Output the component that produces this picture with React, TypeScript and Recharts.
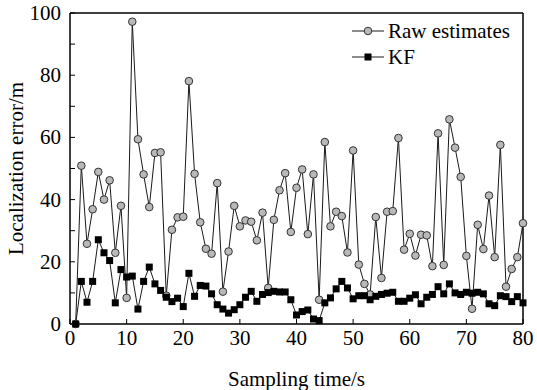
import { LineChart, Line, XAxis, YAxis, Label, ReferenceArea } from 'recharts';

// sampling instants (s)
const times = Array.from({ length: 80 }, (_, i) => i + 1);

// localization error (m)
const rawEstimates = [
  0, 50.9, 25.8, 36.9, 48.9, 40.0, 46.2, 22.9, 38.0, 8.4,
  97.2, 59.4, 48.1, 37.6, 55.0, 55.2, 9.1, 30.3, 34.3, 34.5,
  78.1, 48.3, 32.7, 24.2, 22.6, 45.3, 10.4, 23.3, 38.0, 31.4,
  33.3, 32.9, 26.9, 35.8, 11.6, 33.5, 43.0, 48.5, 29.6, 43.8,
  49.7, 28.9, 48.1, 7.8, 58.5, 31.4, 36.1, 34.7, 23.0, 55.8,
  19.1, 12.9, 9.5, 34.4, 14.8, 36.1, 36.3, 59.8, 23.9, 29.0,
  22.0, 28.7, 28.5, 18.6, 61.3, 19.0, 65.8, 56.7, 47.3, 21.9,
  4.9, 31.9, 24.1, 41.3, 21.5, 57.6, 12.0, 17.7, 21.5, 32.4,
];

const kfEstimates = [
  0, 13.7, 7.0, 13.7, 27.1, 22.9, 20.4, 6.8, 17.5, 15.1,
  15.4, 4.8, 13.7, 18.3, 12.9, 10.8, 8.6, 7.2, 8.3, 5.6,
  16.3, 8.9, 12.4, 12.2, 9.7, 6.2, 4.8, 3.5, 4.6, 6.2,
  8.6, 10.5, 7.3, 9.5, 10.1, 10.5, 10.3, 10.3, 7.8, 2.9,
  4.0, 4.5, 1.6, 1.1, 6.8, 8.4, 11.3, 13.7, 11.6, 8.1,
  9.1, 9.1, 7.8, 8.9, 9.5, 9.9, 10.2, 7.3, 7.3, 8.3,
  9.4, 6.5, 8.6, 9.5, 12.0, 9.7, 12.9, 10.0, 9.5, 10.2,
  9.9, 10.2, 9.7, 6.5, 5.9, 9.1, 8.8, 7.2, 8.8, 6.8,
];

const xTicks = [0, 10, 20, 30, 40, 50, 60, 70, 80];
const yTicks = [0, 10, 20, 30, 40, 50, 60, 70, 80, 90, 100];

const data = times.map((t, i) => ({ t, raw: rawEstimates[i], kf: kfEstimates[i] }));

const FONT = 'Liberation Serif, Times New Roman, serif';
const textStyle = { fontFamily: FONT, fontSize: 21, fill: '#000' };

const XTick = ({ x, y, payload }: any) => (
  <text x={x} y={y + 15} textAnchor="middle" style={textStyle}>
    {payload.value}
  </text>
);

const YTick = ({ x, y, payload }: any) =>
  payload.value % 20 === 0 ? (
    <text x={x} y={y + 7} textAnchor="end" style={textStyle}>
      {payload.value}
    </text>
  ) : (
    <g />
  );

const SquareDot = (props: any) => {
  const { cx, cy, index } = props;
  if (cx == null || cy == null) return <g key={index} />;
  return <rect key={index} x={cx - 3.5} y={cy - 3.5} width={7} height={7} fill="#000" />;
};

const XTitle = ({ viewBox }: any) => (
  <text x={viewBox.x + viewBox.width / 2} y={viewBox.y + viewBox.height - 4} textAnchor="middle" style={textStyle}>
    Sampling time/s
  </text>
);

const YTitle = ({ viewBox }: any) => {
  const cx = 23;
  const cy = viewBox.y + viewBox.height / 2;
  return (
    <text x={cx} y={cy} transform={`rotate(-90, ${cx}, ${cy})`} textAnchor="middle" style={textStyle}>
      Localization error/m
    </text>
  );
};

export default function App() {
  return (
    <div style={{ position: 'absolute', left: 0, top: 0, width: 537, height: 390 }}>
      <LineChart width={537} height={390} data={data} margin={{ top: 12, right: 13, left: 8, bottom: 0 }}>
        {/* plot frame */}
        <ReferenceArea x1={0} x2={80} y1={0} y2={100} fill="none" stroke="#000" strokeWidth={1} ifOverflow="visible" />
        <XAxis
          dataKey="t"
          type="number"
          domain={[0, 80]}
          ticks={xTicks}
          height={66}
          tickSize={-5}
          tickMargin={11}
          tick={XTick}
          axisLine={{ stroke: '#000' }}
          tickLine={{ stroke: '#000' }}
          interval={0}
        >
          <Label content={XTitle} />
        </XAxis>
        <XAxis
          xAxisId="top"
          orientation="top"
          dataKey="t"
          type="number"
          domain={[0, 80]}
          ticks={xTicks}
          height={1}
          tickSize={-5}
          tick={false}
          axisLine={{ stroke: '#000' }}
          tickLine={{ stroke: '#000' }}
          interval={0}
        />
        <YAxis
          type="number"
          domain={[0, 100]}
          ticks={yTicks}
          width={62}
          tickSize={-5}
          tickMargin={14}
          tick={YTick}
          axisLine={{ stroke: '#000' }}
          tickLine={{ stroke: '#000' }}
          interval={0}
        >
          <Label content={YTitle} />
        </YAxis>
        <YAxis
          yAxisId="right"
          orientation="right"
          type="number"
          domain={[0, 100]}
          ticks={yTicks}
          width={1}
          tickSize={-5}
          tick={false}
          axisLine={{ stroke: '#000' }}
          tickLine={{ stroke: '#000' }}
          interval={0}
        />
        <Line
          xAxisId="top"
          yAxisId="right"
          dataKey="raw"
          stroke="none"
          dot={false}
          activeDot={false}
          legendType="none"
          isAnimationActive={false}
        />
        <Line
          dataKey="raw"
          name="Raw estimates"
          type="linear"
          stroke="#1a1a1a"
          strokeWidth={1}
          dot={{ r: 3.8, fill: '#b8b8b8', stroke: '#333', strokeWidth: 1 }}
          isAnimationActive={false}
        />
        <Line
          dataKey="kf"
          name="KF"
          type="linear"
          stroke="#1a1a1a"
          strokeWidth={1}
          dot={SquareDot}
          isAnimationActive={false}
        />
      </LineChart>
      <svg width={537} height={390} style={{ position: 'absolute', left: 0, top: 0, pointerEvents: 'none' }}>
        <line x1={352} y1={31} x2={384} y2={31} stroke="#1a1a1a" />
        <circle cx={368} cy={31} r={3.8} fill="#b8b8b8" stroke="#333" />
        <text x={388} y={38} style={textStyle}>Raw estimates</text>
        <line x1={352} y1={57} x2={384} y2={57} stroke="#1a1a1a" />
        <rect x={364.5} y={53.5} width={7} height={7} fill="#000" />
        <text x={388} y={64} style={textStyle}>KF</text>
      </svg>
    </div>
  );
}
